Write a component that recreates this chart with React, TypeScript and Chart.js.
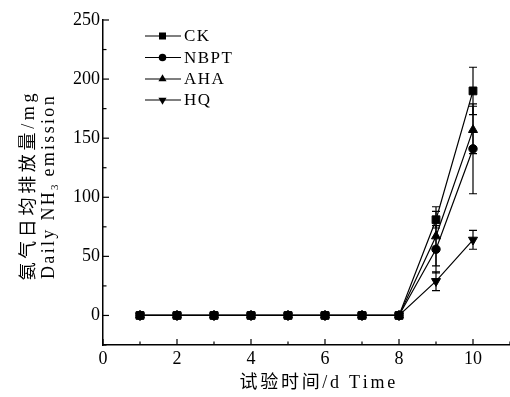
import React, { useEffect, useRef } from "react";
import { Chart, registerables } from "chart.js";

Chart.register(...registerables);

const days = [1, 2, 3, 4, 5, 6, 7, 8, 9, 10];
const seriesNames = ["CK", "NBPT", "AHA", "HQ"];
const ckValues = [0, 0, 0, 0, 0, 0, 0, 0, 81, 190];
const nbptValues = [0, 0, 0, 0, 0, 0, 0, 0, 56, 141];
const ahaValues = [0, 0, 0, 0, 0, 0, 0, 0, 67, 157];
const hqValues = [0, 0, 0, 0, 0, 0, 0, 0, 29, 64];
const ckErrors = [0, 0, 0, 0, 0, 0, 0, 0, 7, 20];
const nbptErrors = [0, 0, 0, 0, 0, 0, 0, 0, 20, 38];
const ahaErrors = [0, 0, 0, 0, 0, 0, 0, 0, 25, 20];
const hqErrors = [0, 0, 0, 0, 0, 0, 0, 0, 8, 8];
const xTickLabels = ["0", "2", "4", "6", "8", "10"];
const yTickLabels = ["0", "50", "100", "150", "200", "250"];
const xTitle = "试验时间/d Time";
const yTitleLine1 = "氨气日均排放量/mg";
const yTitleLine2a = "Daily NH";
const yTitleSub = "3";
const yTitleLine2b = " emission";

const markerStyles: any[] = ["rect", "circle", "triangle", "triangle"];
const markerRotations = [0, 0, 0, 180];
const markerRadius = [5.5, 4.2, 5.2, 5.2];

const SERIF = '"Liberation Serif", "Noto Sans CJK SC", serif';

function drawMarker(ctx: CanvasRenderingContext2D, s: number, x: number, y: number, r: number) {
  ctx.beginPath();
  const style = markerStyles[s];
  if (style === "rect") {
    const h = r * Math.SQRT1_2;
    ctx.rect(x - h, y - h, 2 * h, 2 * h);
  } else if (style === "circle") {
    ctx.arc(x, y, r, 0, Math.PI * 2);
  } else {
    const dir = markerRotations[s] === 180 ? -1 : 1;
    const h = r * 0.866;
    ctx.moveTo(x, y - dir * r);
    ctx.lineTo(x - h, y + dir * r * 0.5);
    ctx.lineTo(x + h, y + dir * r * 0.5);
    ctx.closePath();
  }
  ctx.fill();
}

function drawSpaced(ctx: CanvasRenderingContext2D, text: string, x: number, y: number, targetWidth: number, align: "center" | "left") {
  const w = ctx.measureText(text).width;
  const n = Math.max(text.length - 1, 1);
  const sp = (targetWidth - w) / n;
  let cx = align === "center" ? x - targetWidth / 2 : x;
  for (const ch of text) {
    ctx.fillText(ch, cx, y);
    cx += ctx.measureText(ch).width + sp;
  }
}

const customPlugin = {
  id: "custom",
  afterDatasetsDraw(chart: any) {
    const ctx: CanvasRenderingContext2D = chart.ctx;
    const xs = chart.scales.x;
    const ys = chart.scales.y;
    const area = chart.chartArea;
    const errs = [ckErrors, nbptErrors, ahaErrors, hqErrors];
    const vals = [ckValues, nbptValues, ahaValues, hqValues];
    ctx.save();
    ctx.strokeStyle = "#000";
    ctx.fillStyle = "#000";
    ctx.lineWidth = 1.2;
    for (let s = 0; s < vals.length; s++) {
      for (let i = 0; i < days.length; i++) {
        const e = errs[s][i];
        if (!e) continue;
        const px = xs.getPixelForValue(days[i]);
        const top = ys.getPixelForValue(vals[s][i] + e);
        const bot = ys.getPixelForValue(vals[s][i] - e);
        ctx.beginPath();
        ctx.moveTo(px, top);
        ctx.lineTo(px, bot);
        ctx.moveTo(px - 4, top);
        ctx.lineTo(px + 4, top);
        ctx.moveTo(px - 4, bot);
        ctx.lineTo(px + 4, bot);
        ctx.stroke();
      }
    }
    for (let v = -25; v <= 250; v += 25) {
      const py = ys.getPixelForValue(v);
      const len = v % 50 === 0 ? 6 : 3.5;
      ctx.beginPath();
      ctx.moveTo(area.left, py);
      ctx.lineTo(area.left + len, py);
      ctx.stroke();
    }
    for (let v = 0; v <= 11; v += 1) {
      const px = xs.getPixelForValue(v);
      const len = v % 2 === 0 ? 6 : 3.5;
      ctx.beginPath();
      ctx.moveTo(px, area.bottom);
      ctx.lineTo(px, area.bottom - len);
      ctx.stroke();
    }
    const legendY = [36, 57.5, 79, 100];
    ctx.font = "17px " + SERIF;
    ctx.textBaseline = "middle";
    ctx.textAlign = "left";
    for (let s = 0; s < seriesNames.length; s++) {
      const y = legendY[s];
      ctx.beginPath();
      ctx.moveTo(145, y);
      ctx.lineTo(181, y);
      ctx.stroke();
      drawMarker(ctx, s, 162.5, y, markerRadius[s] * 0.9);
      const name = seriesNames[s];
      const w = ctx.measureText(name).width;
      drawSpaced(ctx, name, 184, y + 1, w + (name.length - 1) * 1.5, "left");
    }
    ctx.font = "18px " + SERIF;
    drawSpaced(ctx, xTitle, 317, 383, 155, "center");
    ctx.save();
    ctx.translate(29, 187);
    ctx.rotate(-Math.PI / 2);
    ctx.font = "18px " + SERIF;
    drawSpaced(ctx, yTitleLine1, 0, 0, 187, "center");
    ctx.restore();
    ctx.save();
    ctx.translate(49, 187);
    ctx.rotate(-Math.PI / 2);
    ctx.font = "18px " + SERIF;
    const w1 = ctx.measureText(yTitleLine2a).width;
    ctx.font = "11px " + SERIF;
    const ws = ctx.measureText(yTitleSub).width;
    ctx.font = "18px " + SERIF;
    const w2 = ctx.measureText(yTitleLine2b).width;
    const total = 184;
    const natural = w1 + ws + w2;
    const nch = yTitleLine2a.length + yTitleLine2b.length;
    const sp = (total - natural) / nch;
    let cx = -total / 2;
    for (const ch of yTitleLine2a) {
      ctx.fillText(ch, cx, 0);
      cx += ctx.measureText(ch).width + sp;
    }
    ctx.font = "11px " + SERIF;
    ctx.fillText(yTitleSub, cx, 6);
    cx += ws + 1;
    ctx.font = "18px " + SERIF;
    for (const ch of yTitleLine2b) {
      ctx.fillText(ch, cx, 0);
      cx += ctx.measureText(ch).width + sp;
    }
    ctx.restore();
    ctx.restore();
  },
};

export default function App() {
  const ref = useRef<HTMLCanvasElement | null>(null);
  useEffect(() => {
    document.body.style.margin = "0";
    const allVals = [ckValues, nbptValues, ahaValues, hqValues];
    const chart = new Chart(ref.current as HTMLCanvasElement, {
      type: "line",
      data: {
        datasets: seriesNames.map((name, s) => ({
          label: name,
          data: days.map((d, i) => ({ x: d, y: allVals[s][i] })),
          borderColor: "#000",
          backgroundColor: "#000",
          borderWidth: 1.2,
          pointStyle: markerStyles[s],
          pointRotation: markerRotations[s],
          pointRadius: markerRadius[s],
          pointBorderWidth: 1,
          pointBackgroundColor: "#000",
          pointBorderColor: "#000",
          tension: 0,
        })),
      },
      options: {
        animation: false,
        responsive: false,
        devicePixelRatio: 1,
        layout: { autoPadding: false, padding: { top: 20, right: 0, left: 0, bottom: 0 } },
        plugins: { legend: { display: false }, tooltip: { enabled: false } },
        scales: {
          x: {
            type: "linear",
            min: 0,
            max: 11,
            afterFit: (scale: any) => { scale.height = 52; scale.paddingRight = 0; },
            grid: { display: false, drawTicks: false },
            border: { display: true, color: "#000", width: 1.5 },
            ticks: {
              stepSize: 1,
              autoSkip: false,
              maxRotation: 0,
              padding: 3,
              color: "#000",
              font: { family: SERIF, size: 18 },
              callback: (v: any) => {
                const s = String(v);
                return xTickLabels.includes(s) ? s : "";
              },
            },
          },
          y: {
            type: "linear",
            min: -25,
            max: 250,
            afterFit: (scale: any) => { scale.width = 103; },
            grid: { display: false, drawTicks: false },
            border: { display: true, color: "#000", width: 1.5 },
            ticks: {
              stepSize: 25,
              autoSkip: false,
              padding: 3,
              color: "#000",
              font: { family: SERIF, size: 18 },
              callback: (v: any) => {
                const s = String(v);
                return yTickLabels.includes(s) ? s : "";
              },
            },
          },
        },
      },
      plugins: [customPlugin],
    });
    return () => chart.destroy();
  }, []);
  return (
    <div style={{ position: "absolute", left: 0, top: 0, width: 510, height: 397 }}>
      <canvas ref={ref} width={510} height={397} />
    </div>
  );
}
